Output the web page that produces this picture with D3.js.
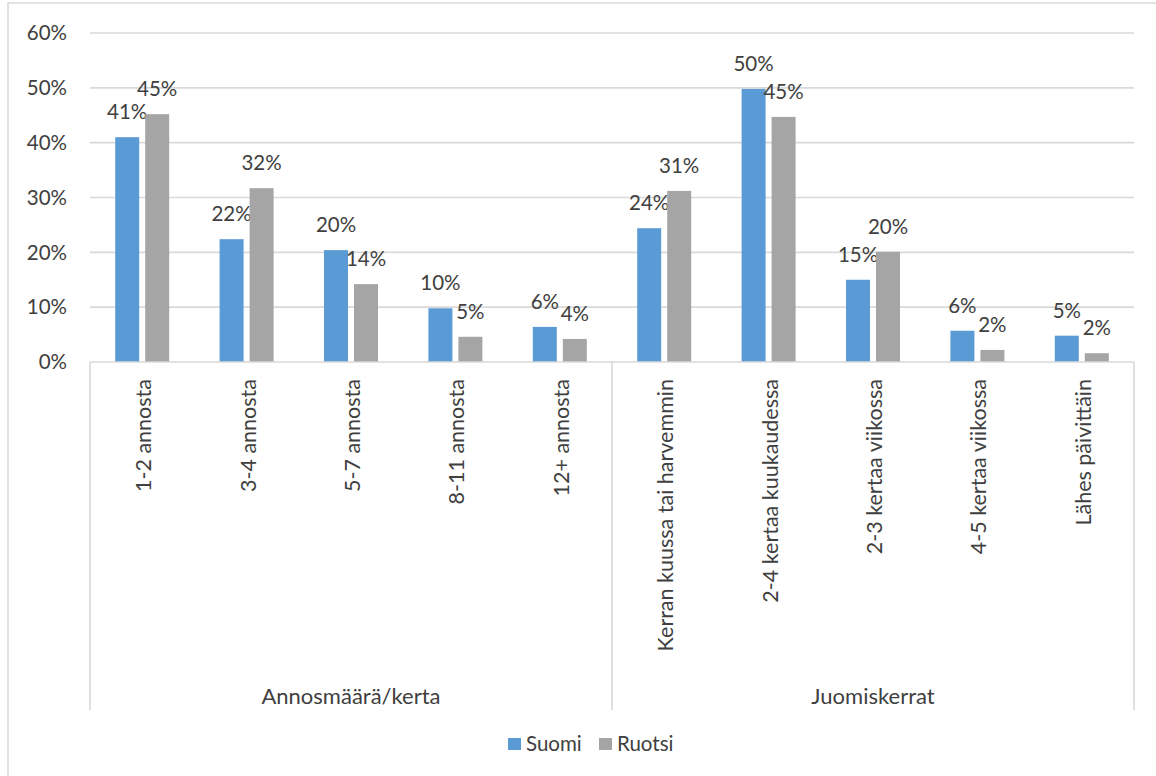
<!DOCTYPE html>
<html>
<head>
<meta charset="utf-8">
<script src="https://cdn.jsdelivr.net/npm/d3@7"></script>
<style>
  body { margin: 0; background: #fff; }
  svg { display: block; font-family: Lato, 'Open Sans', sans-serif; }
  .grid line { stroke: #d9d9d9; stroke-width: 1.6; }
  .tick-label, .data-label, .cat-label, .group-label, .legend text { fill: #404040; }
</style>
</head>
<body>
<svg id="chart" width="1156" height="776"></svg>
<script>
// Categories and groups
const categories = [
  '1-2 annosta', '3-4 annosta', '5-7 annosta', '8-11 annosta', '12+ annosta',
  'Kerran kuussa tai harvemmin', '2-4 kertaa kuukaudessa', '2-3 kertaa viikossa',
  '4-5 kertaa viikossa', 'Lähes päivittäin'
];
const groups = ['Annosmäärä/kerta', 'Juomiskerrat'];
const groupSizes = [5, 5];

// Series values (%)
const series = ['Suomi', 'Ruotsi'];
const suomi = [41.0, 22.4, 20.4, 9.8, 6.4, 24.4, 49.8, 15.0, 5.7, 4.8];
const ruotsi = [45.2, 31.7, 14.2, 4.6, 4.2, 31.2, 44.7, 20.1, 2.2, 1.6];
const yTicks = [0, 10, 20, 30, 40, 50, 60];

const colors = { Suomi: '#5b9bd5', Ruotsi: '#a5a5a5' };

const width = 1156, height = 776;
const margin = { left: 90, right: 22, top: 33, bottom: 414 };
const plotRight = width - margin.right;
const plotBottom = height - margin.bottom;

const svg = d3.select('#chart');

// outer chart border
svg.append('rect')
  .attr('x', 8).attr('y', 3)
  .attr('width', width + 20).attr('height', height + 20)
  .attr('fill', 'none').attr('stroke', '#d9d9d9').attr('stroke-width', 1.5);

const x = d3.scaleBand().domain(categories).range([margin.left, plotRight]);
const xInner = d3.scaleBand().domain(series).range([-27, 27]).paddingInner(0.2);
const y = d3.scaleLinear().domain([0, 60]).range([plotBottom, margin.top]);

// gridlines
svg.append('g').attr('class', 'grid')
  .selectAll('line').data(yTicks.slice(1)).join('line')
  .attr('x1', margin.left).attr('x2', plotRight)
  .attr('y1', d => y(d)).attr('y2', d => y(d));

// y axis labels
svg.append('g').selectAll('text').data(yTicks).join('text')
  .attr('class', 'tick-label')
  .attr('x', 67).attr('y', d => y(d))
  .attr('dy', '0.35em')
  .attr('text-anchor', 'end')
  .attr('font-size', 20.5)
  .text(d => d + '%');

// bars
const rows = categories.map((c, i) => ({ cat: c, Suomi: suomi[i], Ruotsi: ruotsi[i] }));
const barG = svg.append('g');
series.forEach(s => {
  barG.selectAll('rect.' + s).data(rows).join('rect')
    .attr('class', s)
    .attr('x', d => x(d.cat) + x.bandwidth() / 2 + xInner(s))
    .attr('width', xInner.bandwidth())
    .attr('y', d => y(d[s]))
    .attr('height', d => y(0) - y(d[s]))
    .attr('fill', colors[s]);

  barG.selectAll('text.l' + s).data(rows).join('text')
    .attr('class', 'data-label l' + s)
    .attr('x', d => x(d.cat) + x.bandwidth() / 2 + xInner(s) + xInner.bandwidth() / 2)
    .attr('y', d => y(d[s]) - 18)
    .attr('text-anchor', 'middle')
    .attr('font-size', 20.5)
    .text(d => Math.round(d[s]) + '%');
});

// category axis line + group separators
const axisG = svg.append('g').attr('stroke', '#d9d9d9').attr('stroke-width', 1.6);
axisG.append('line')
  .attr('x1', margin.left).attr('x2', plotRight)
  .attr('y1', y(0)).attr('y2', y(0));

let start = 0;
const bounds = [0];
groupSizes.forEach(n => { start += n; bounds.push(start); });
const sepX = i => i === categories.length ? plotRight : x(categories[i]);
axisG.selectAll('line.sep').data(bounds).join('line')
  .attr('class', 'sep')
  .attr('x1', d => sepX(d)).attr('x2', d => sepX(d))
  .attr('y1', y(0)).attr('y2', 710);

// rotated category labels
svg.append('g').selectAll('text').data(categories).join('text')
  .attr('class', 'cat-label')
  .attr('transform', d => `translate(${x(d) + x.bandwidth() / 2 + 9},379) rotate(-90)`)
  .attr('text-anchor', 'end')
  .attr('font-size', 21.5)
  .text(d => d);

// group labels
svg.append('g').selectAll('text').data(groups).join('text')
  .attr('class', 'group-label')
  .attr('x', (d, i) => (sepX(bounds[i]) + sepX(bounds[i + 1])) / 2)
  .attr('y', 704)
  .attr('text-anchor', 'middle')
  .attr('font-size', 22)
  .text(d => d);

// legend
const legendX = [508, 599];
const legend = svg.append('g').attr('class', 'legend');
series.forEach((s, i) => {
  legend.append('rect')
    .attr('x', legendX[i]).attr('y', 738)
    .attr('width', 13).attr('height', 12)
    .attr('fill', colors[s]);
  legend.append('text')
    .attr('x', legendX[i] + 18).attr('y', 751)
    .attr('font-size', 20.5)
    .text(s);
});
</script>
</body>
</html>
